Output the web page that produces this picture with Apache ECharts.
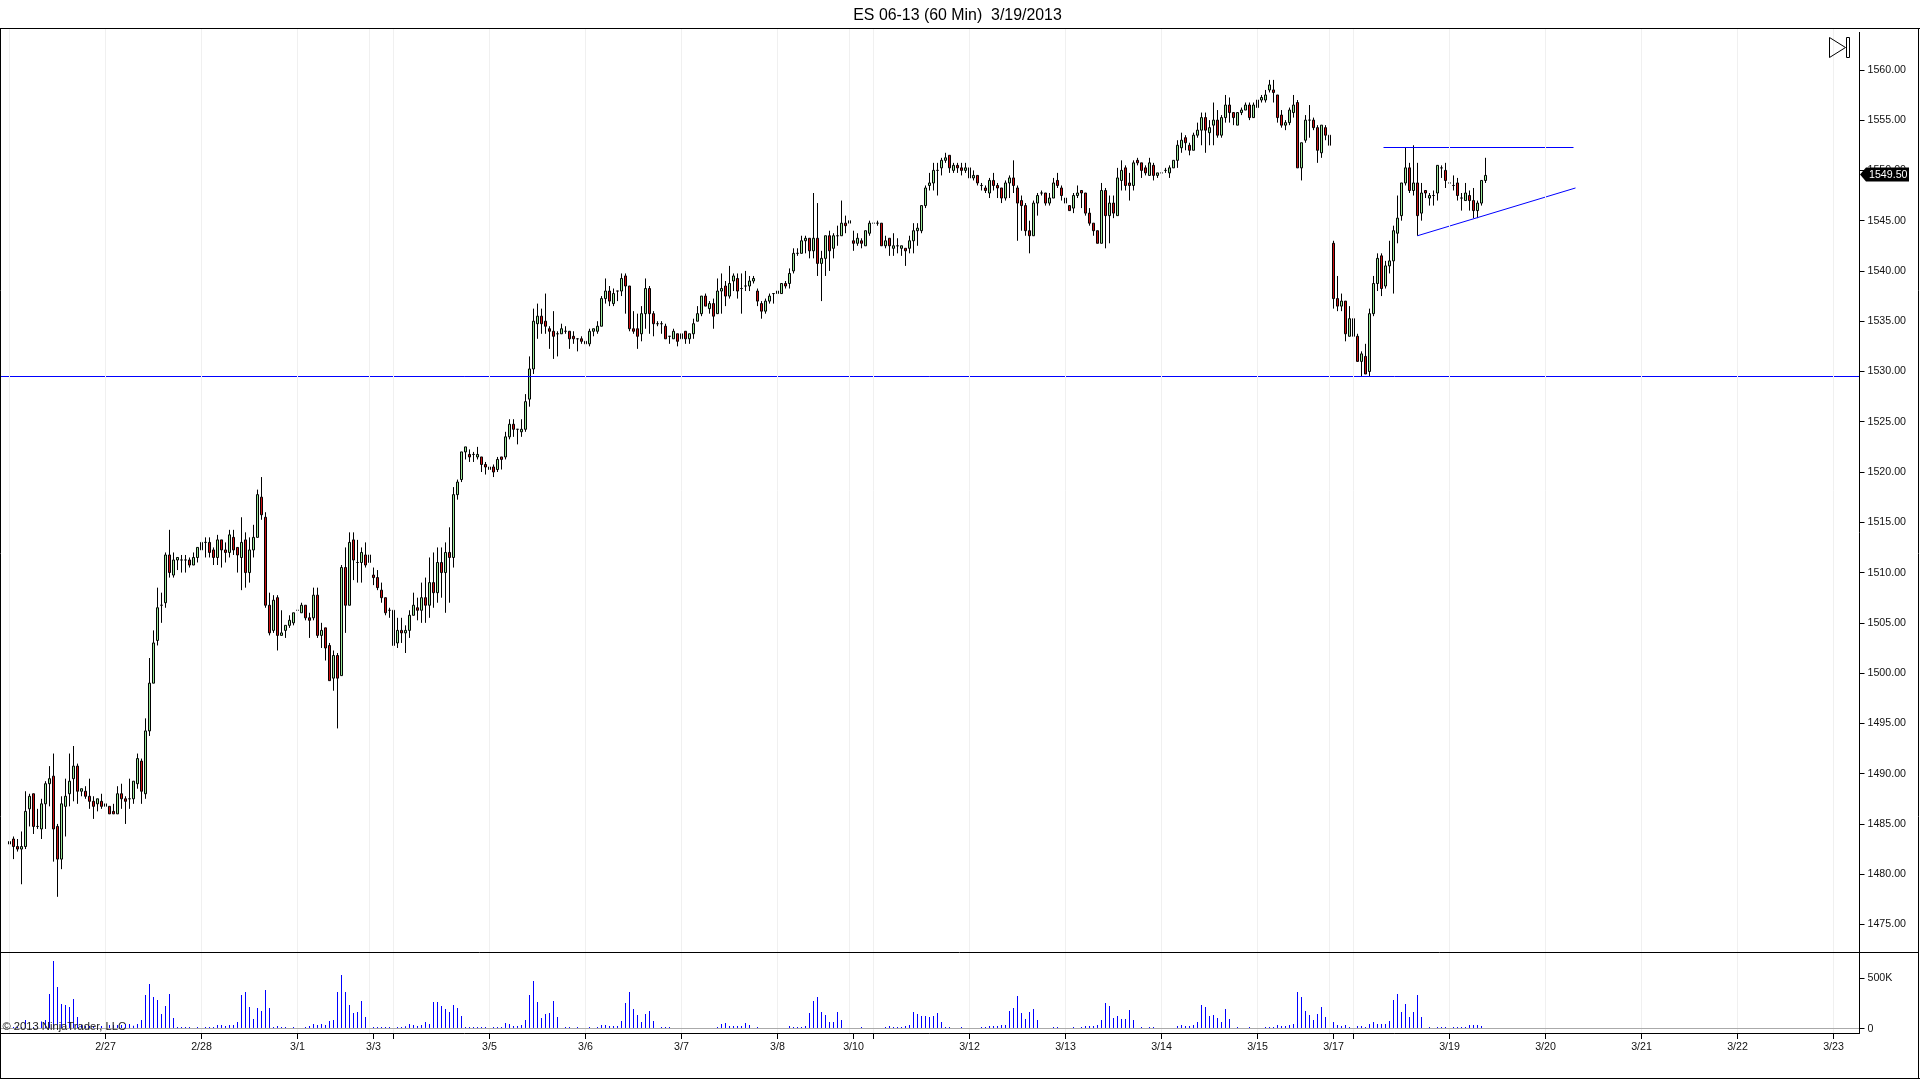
<!DOCTYPE html>
<html><head><meta charset="utf-8"><title>ES 06-13</title>
<style>html,body{margin:0;padding:0;background:#fff}#c{width:1920px;height:1079px}</style>
<script src="https://cdn.jsdelivr.net/npm/echarts@6/dist/echarts.min.js"></script>
</head><body><div id="c"></div>
<script>
const titleText = 'ES 06-13 (60 Min)  3/19/2013';
const copyrightText = '\u00a9 2013 NinjaTrader, LLC';
// rows: open, close, low, high (one row per 60-minute bar)
const priceBars = [
[1483,1483.25,1480.25,1483.5],[1483.5,1482.75,1481.5,1483.75],[1482.75,1482.5,1482.25,1483.5],[1482.5,1482.75,1479,1484.25],[1482.75,1486.25,1482.5,1488.25],
[1486.5,1487.75,1484.75,1488],[1488,1484.75,1484,1488],[1484.75,1484.75,1484.5,1486.5],[1484.5,1487,1483.5,1487.5],[1487,1489,1484.5,1489.25],
[1489,1489.5,1486.75,1490.75],[1489.75,1484.5,1481.25,1492],[1484.75,1481.5,1477.75,1485],[1481.5,1487,1480.5,1487.75],[1486.75,1487.75,1483.75,1489.5],
[1488,1489.25,1486.75,1492],[1489.5,1490.75,1487.25,1492.75],[1490.75,1488.25,1487,1491],[1488.25,1488.5,1487.75,1488.5],[1488.25,1487.75,1487.5,1488.75],
[1487.75,1487.25,1486.5,1489.5],[1487.25,1486.75,1485.5,1487.75],[1487,1487.5,1486.25,1487.5],[1487.25,1486.75,1486.5,1488],[1486.75,1487,1486.5,1487.25],
[1486.75,1486,1486,1486.75],[1486.25,1486,1486,1487],[1486,1488,1486,1488.75],[1488,1487.5,1486.5,1489],[1487.5,1487.25,1485,1487.75],
[1487.5,1487.5,1486.5,1489.5],[1487.5,1489.25,1487,1489.25],[1489,1491.5,1488.5,1492],[1491.25,1488.25,1487,1491.5],[1488,1494.25,1487.5,1495.5],
[1494.25,1499,1493.75,1501.5],[1499,1503,1499,1504.25],[1503.25,1506.5,1502.75,1508.5],[1506.75,1506.75,1505,1508],[1507,1511.75,1506.5,1512],
[1511.75,1510,1509.5,1514.25],[1509.75,1511.25,1509.5,1512],[1511.25,1511.5,1510.25,1511.5],[1511.25,1511.25,1510,1511.75],[1511.25,1511.25,1510,1511.75],
[1511.25,1510.75,1510.5,1511.5],[1510.75,1511.5,1510.75,1512],[1511.5,1512.5,1511,1512.5],[1512.25,1513,1512,1513.25],[1513,1513,1511.5,1513.5],
[1513,1512,1511.5,1513.5],[1512.25,1511.5,1510.75,1512.5],[1511.5,1513.25,1510.75,1513.75],[1513.25,1512.25,1510.5,1513.25],[1512.25,1512,1511,1513],
[1512,1513.75,1511.5,1514.25],[1513.5,1512.25,1511.75,1514.25],[1512.5,1511.75,1510,1512.5],[1511.5,1513,1508.25,1515.5],[1513.25,1510,1508.5,1514],
[1510,1512.25,1509,1513.5],[1512.25,1513.5,1511.5,1514.75],[1513.5,1517.75,1513.5,1518.25],[1517.5,1515.75,1515.25,1519.5],[1515.5,1506.75,1506.5,1516],
[1506.75,1504,1503.75,1508],[1504.25,1507.25,1504,1507.75],[1507.5,1503.75,1502.25,1507.75],[1503.75,1504,1503.75,1506.25],[1504.25,1504.75,1503.5,1504.75],
[1504.75,1505.25,1504.5,1505.75],[1505,1506,1504.75,1506],[1506.25,1506.25,1506,1507],[1506,1506.75,1506,1507],[1506.75,1505.5,1505.25,1506.75],
[1505.5,1505.25,1503.5,1506],[1505.5,1507.75,1505.25,1508.5],[1507.75,1503.75,1503.5,1508.5],[1503.75,1504.25,1502.5,1505],[1504.5,1502.5,1501.25,1504.5],
[1502.75,1499.25,1499.25,1503],[1499.5,1501.75,1498.25,1502.25],[1501.75,1499.5,1494.5,1502],[1499.75,1510.5,1499.75,1510.75],[1510.5,1506.75,1504,1512.5],
[1506.75,1513,1506.75,1514],[1513.25,1511.25,1509.25,1514],[1511,1511,1509,1513.25],[1511,1512,1509,1512.5],[1511.75,1510.75,1510.5,1513],
[1511,1511.75,1510.5,1512],[1509.75,1509.5,1508.75,1510.5],[1509.5,1508.5,1508.25,1510.25],[1508.25,1507.5,1507,1509],[1507.5,1506,1505.75,1507.5],
[1506.25,1506.25,1505.5,1506.5],[1506.25,1502.75,1502.75,1506.25],[1503,1504.25,1502.5,1505.5],[1504.25,1504,1503,1505.5],[1504,1504.25,1502,1504.75],
[1504.25,1505.75,1503.5,1506.25],[1505.75,1506.75,1505.75,1508],[1506.5,1506.25,1505.25,1507.5],
[1506.25,1507.5,1505,1509],[1507.5,1506.75,1505,1509.5],[1506.75,1509,1505.5,1511.5],[1509,1508,1506.5,1512],[1508,1511,1507,1512.5],[1511,1510,1507.5,1512.5],[1510,1512,1506,1513],[1512,1511.5,1507,1514.5],
[1511.5,1517.75,1510.5,1518.5],[1517.75,1519,1517.25,1519.25],[1519.25,1522,1519,1522],[1522,1522.5,1521.25,1522.5],
[1521.75,1521.5,1521,1522.25],[1521.75,1521.75,1521,1522],[1521.5,1521.75,1521.25,1522.5],[1521.5,1520.75,1520,1521.5],[1520.75,1520.5,1519.75,1521],
[1520.25,1520.5,1520.25,1520.75],[1520.5,1520,1519.5,1520.75],[1520.25,1521.25,1520,1521.5],[1521.5,1521.25,1520.25,1521.5],[1521.5,1523.5,1521.25,1524],
[1523.5,1524.75,1523.25,1525.25],[1524.75,1524.25,1523.5,1525.25],[1524.25,1524.25,1522.75,1524.25],[1524,1524.25,1523.5,1525.25],[1524.25,1527,1524,1527.75],
[1527.25,1530.25,1526.5,1531.5],[1530.25,1535,1529.75,1536.25],[1534.75,1535.5,1533.25,1536.75],[1535.5,1534.75,1533.75,1536.25],[1535,1534.5,1533.75,1537.75],
[1534.25,1534,1532.25,1534.5],[1534,1533.5,1531.25,1536],[1533.75,1533.75,1531.5,1534],[1533.75,1534.25,1533.75,1534.75],[1534,1534,1533.75,1534.5],
[1534,1533.25,1532.25,1534],[1533.5,1533.25,1532.75,1534],[1533.25,1533.25,1532,1533.25],[1533.25,1533,1532.75,1533.5],[1533,1532.75,1532.75,1533.25],
[1532.75,1534,1532.5,1534.25],[1534,1534.25,1533.5,1534.25],[1534,1534.5,1533.75,1535],[1534.5,1537.25,1534.5,1537.5],[1537.25,1538,1536.75,1539.25],
[1538,1537,1536.5,1538.5],[1536.75,1537.75,1536.5,1538.25],[1538,1538,1537,1538],[1538,1539.25,1537.5,1539.75],[1539.5,1538.5,1535.75,1539.75],
[1538.5,1534.25,1534,1538.5],[1534.25,1534,1533.75,1536],[1534.25,1533.5,1532.25,1535.75],[1533.75,1535.75,1533,1536.5],[1535.75,1538.25,1534.25,1539.25],
[1538.25,1535.75,1533.75,1538.5],[1535.75,1534.75,1533.5,1536],[1534.75,1534.75,1534.5,1535],[1534.75,1534.75,1533.75,1535],[1534.5,1533.25,1533.25,1534.75],
[1533.5,1533.5,1532.75,1533.5],[1533.25,1534,1533.25,1534.25],[1533.75,1533,1532.5,1533.75],[1533.25,1533.75,1533,1533.75],[1534,1533.25,1532.75,1534],
[1533.25,1533.75,1532.75,1533.75],[1533.75,1534.75,1533.25,1535.25],[1535,1535.75,1535,1536.5],[1535.75,1537.5,1535.5,1537.5],[1537.5,1536.5,1536.5,1537.75],
[1536.25,1536.75,1535.75,1537],[1536.75,1535.5,1534.25,1537.25],[1535.75,1538,1535.75,1539.25],[1538,1538.25,1535.75,1539.75],[1538.5,1537.5,1536.5,1539],
[1537.5,1538.75,1537.25,1540.5],[1539,1539.5,1538,1539.75],[1539.25,1538,1537.25,1539.75],[1538.25,1538.25,1535.75,1539.75],[1538.5,1538.5,1538,1540],
[1538.5,1539,1538,1539.5],[1539,1539.25,1538.75,1539.5],[1538,1537,1536.5,1538.25],[1536.75,1536,1535.25,1537],[1536,1537,1535.75,1537.25],
[1537,1537.5,1536.75,1537.75],[1537.75,1537.75,1536.75,1537.75],[1537.75,1538,1537.5,1538.5],[1537.75,1538.75,1537.75,1538.75],[1538.75,1538.5,1538.25,1539],
[1538.75,1539.75,1538.25,1540.25],[1540,1541.75,1539.75,1542.25],[1541.75,1541.75,1541.5,1542.25],
[1541.75,1543,1541.75,1543.5],[1543,1543.25,1541.75,1543.5],[1543.25,1542,1541.25,1543.25],[1542,1543.25,1541.25,1547.75],[1543.25,1540.75,1539.5,1546.75],
[1540.75,1541.25,1537,1542],[1541.25,1543.5,1539.5,1543.5],[1543.5,1542,1540,1544],[1542.25,1543.5,1541.25,1543.75],[1543.5,1543.5,1542.5,1544.5],
[1543.5,1544.75,1543.5,1547],[1544.75,1544.5,1543.75,1545.5],[1544.75,1545,1544.75,1545.75],[1543,1542.75,1542,1544],[1542.75,1543.25,1542.5,1543.75],
[1543,1542.75,1542.25,1543.25],[1542.5,1544,1542.5,1544],[1543.75,1544.75,1543.5,1545],[1544.75,1544.75,1544.25,1545.25],[1544.75,1544.75,1544.5,1545],
[1544.75,1542.5,1542.5,1544.75],[1542.5,1543,1542.25,1543.5],[1543.25,1542.5,1541.5,1543.25],[1542.25,1542.5,1541.5,1543.75],[1542.5,1542.5,1541.75,1543.25],
[1542.25,1542.5,1541.5,1542.5],[1542.25,1542,1540.5,1542.25],[1542.25,1543,1541.75,1543.5],[1543,1544,1541.75,1544.75],[1544,1544.25,1542.5,1544.75],
[1544,1546.5,1543.75,1546.5],[1546.5,1548.25,1546.25,1548.5],[1548.5,1548.75,1548,1549.75],[1548.75,1550,1548,1550.75],[1550,1550,1547.5,1550.75],
[1550.25,1551,1549.5,1551.25],[1551,1551.25,1550.75,1551.75],[1551.5,1550.25,1549.75,1551.5],[1550,1550.5,1549.75,1550.75],[1550.5,1550.25,1549.75,1550.75],
[1550.25,1550,1549.5,1550.75],[1550,1550.25,1549.75,1550.75],[1550.25,1549.25,1549,1550.25],[1549.25,1549.5,1549,1550],[1549.5,1548.75,1548.5,1549.5],
[1548.5,1548.5,1548,1548.75],[1548.25,1548,1547.75,1548.5],[1547.75,1549,1547.25,1549.25],[1549,1548.5,1548,1549.75],[1548.5,1548.25,1547.25,1548.75],
[1548.25,1547.25,1546.75,1548.25],[1547.25,1548.75,1547,1549],[1548.75,1549.25,1547.25,1549.5],[1549.25,1548.5,1547.75,1551],[1548.25,1546.75,1543,1548.5],
[1547,1546.5,1544,1547.5],[1546.5,1544,1543.5,1546.75],[1544,1543.5,1541.75,1545],[1543.5,1546.75,1543.5,1547],[1546.75,1547.5,1545.5,1547.75],
[1547.75,1547.75,1547.5,1548],[1547.75,1546.75,1546.5,1547.75],[1546.75,1547.25,1546.5,1547.75],[1547.25,1548.75,1547.25,1549.25],[1549,1548.5,1548.25,1549.75],
[1548.25,1547.5,1547,1548.5],[1547.25,1546.75,1545.75,1547.5],[1546.5,1546,1546,1546.5],[1546.25,1547.5,1545.75,1547.75],[1547.5,1547.75,1547.25,1548.5],
[1548,1547.75,1546.25,1548],[1547.75,1545.75,1545.5,1547.75],[1545.75,1544.75,1544.5,1546.25],[1544.75,1544,1543.5,1544.75],[1544,1542.75,1542.75,1544],
[1542.75,1548,1542.75,1548.75],[1548,1545.5,1542.25,1548.25],[1545.5,1546.75,1542.75,1547.5],[1546.75,1545.75,1545.25,1547.5],[1545.5,1549.25,1545.5,1550.25],
[1549,1550,1548,1551],[1550.25,1548.5,1548,1550.5],[1548.75,1548.5,1547,1549.75],[1548.5,1550.75,1548,1551],[1551,1550.75,1550.5,1551.25],
[1550.75,1550,1549.25,1550.75],[1550.25,1549.75,1549.5,1550.5],[1549.5,1550.75,1549.5,1551.25],[1550.5,1549.5,1549,1550.75],[1549.5,1549.75,1549.25,1549.75],
[1549.75,1549.75,1549.5,1550.25],[1550,1550,1549.75,1550.25],[1549.75,1550.25,1549.25,1550.5],[1550.25,1551,1550.25,1551],[1551,1552.5,1550.25,1553],
[1552.25,1553,1551.75,1553.75],[1553.25,1552.75,1552,1553.5],[1552.5,1552,1551.5,1552.75],[1552,1553.5,1552,1553.75],
[1553.5,1554,1553.25,1554.75],[1554,1555.25,1552.5,1555.75],[1555.25,1554,1551.75,1555.75],[1553.75,1554.25,1552.5,1555],[1554.5,1555,1552.5,1556.75],
[1555,1553.5,1553.25,1556],[1553.5,1555.25,1553.25,1555.5],[1555.25,1556.5,1554.75,1557.5],[1556.5,1555.75,1554.75,1557.25],[1555.75,1555.25,1554.5,1555.75],
[1554.5,1555.75,1554.5,1555.75],[1555.75,1556,1555.5,1556.25],[1556,1556.5,1556,1556.75],[1556.5,1555.25,1555,1556.75],[1555.25,1556.5,1555.25,1556.75],
[1556.25,1557,1556,1557.25],[1557,1557.25,1556.75,1557.5],[1557,1557.5,1556.75,1558],[1558,1558.5,1557.75,1559],[1558,1557.75,1556.75,1559],
[1557.5,1555.25,1554.75,1557.5],[1555.5,1554.5,1554.25,1556],[1554.5,1554.75,1554,1555],[1554.75,1556,1554.5,1556.25],[1555.75,1556.5,1555.25,1557.5],
[1556.75,1550.25,1550.25,1557],[1550.25,1552.75,1549,1552.75],[1553,1555,1552.75,1555.5],[1555,1555,1553.25,1556.5],[1555,1554.25,1554,1555.25],
[1554.25,1552,1550.75,1554.5],[1551.75,1554.5,1551.25,1554.5],[1554.25,1553.5,1553,1554.5],[1553.5,1552.5,1552.5,1553.5],
[1542.75,1537.25,1536.25,1543],[1537.25,1536.5,1536,1539.5],[1536.5,1537,1536,1537.75],[1537,1533.75,1533,1537],[1533.5,1535.25,1533.5,1536.5],
[1535.25,1533.5,1533,1536.25],[1533.5,1531,1531,1533.75],[1531,1531.75,1529.5,1532],[1531.5,1529.75,1529.75,1532.75],[1530,1535.75,1529.5,1536.25],
[1535.75,1538.75,1535.5,1539.5],[1538.75,1541.25,1538,1541.75],[1541.5,1538.25,1537.5,1541.75],[1538.5,1540.5,1538.25,1541],[1540.5,1541,1539.75,1543],
[1541,1544,1537.75,1544.5],[1543.75,1545.25,1542.75,1547.5],[1545.5,1548.75,1545,1548.75],[1548.75,1550.25,1548.5,1552.25],[1550.25,1548,1547.75,1550.75],
[1548,1548.75,1547.5,1552.5],[1548.75,1545.5,1543.5,1550.75],[1545.75,1547.75,1545,1548.75],[1548,1547.75,1547.25,1548],[1547.25,1547.5,1546.5,1547.75],
[1547.5,1547.5,1546.5,1548],[1547.75,1550.5,1547,1550.5],[1550.25,1550.25,1549.25,1550.5],[1550,1549,1548.25,1550.75],[1548.75,1548.75,1548.25,1549],
[1548.5,1548.5,1548,1549.5],[1548.75,1547.5,1547,1549.25],[1547.25,1547.25,1546,1547.75],[1547,1547.75,1547,1548.75],[1547.5,1547,1546,1548],
[1547,1546,1545.25,1548.25],[1546,1546.75,1545.25,1547],[1546.75,1549,1546.5,1549],[1549,1549.5,1548.75,1551.25]
];
// volume per bar, thousands of contracts
const volumeK = [
16,16,16,16,85,16,16,16,70,85, 342,668,411,243,233,214,293,115,36,26,
26,26,26,26,36,36,36,36,36,46, 46,30,46,86,332,441,312,283,145,224,
342,105,16,16,16,16,0,16,16,16, 16,16,36,36,26,36,36,66,332,362,
214,95,204,174,382,204,16,26,16,16, 0,16,0,0,16,26,46,36,46,36,
76,86,362,530,362,233,155,164,273,115, 0,16,16,16,16,16,16,16,16,23,
46,36,26,36,66,46,263,263,224,194, 164,233,204,125,16,16,16,16,16,16,
0,16,16,16,56,46,26,26,36,86, 332,470,263,105,145,155,273,115,0,16,
16,0,16,0,0,16,0,16,36,36, 26,26,26,76,253,362,194,135,66,145,
174,76,0,16,16,16,0,0,0,0, 0,0,0,0,0,0,0,16,46,56,
26,26,26,26,56,36,0,16,0,0, 0,0,0,0,0,26,16,16,16,26,
155,273,312,164,135,66,66,164,86,0, 16,0,0,16,0,0,0,0,0,16,
26,16,16,16,26,36,164,145,125,125, 115,125,155,66,16,16,0,0,16,0,
0,0,0,16,16,26,26,26,36,36, 174,204,322,155,95,164,194,86,0,0,
0,16,16,0,16,0,16,0,16,26, 26,26,36,86,253,224,105,125,95,95,
184,86,0,16,0,16,16,0,0,0, 0,0,26,36,26,26,36,66,233,214,
125,135,105,66,194,95,0,16,0,0, 16,0,16,0,16,16,16,36,26,26,
36,46,362,312,174,135,86,145,214,115, 0,66,36,26,36,16,16,26,26,16,
46,66,46,46,46,76,283,342,164,243, 115,164,332,115,0,16,0,16,16,16,
16,16,16,16,16,36,36,36,26,0
];
const priceTicks = [1475,1480,1485,1490,1495,1500,1505,1510,1515,1520,1525,1530,1535,1540,1545,1550,1555,1560];
const volumeTicks = [0,500000];
const gridBars = [0,24,48,72,90,96,120,144,168,192,210,216,240,264,288,312,330,336,360,384,408,432,456];
const tickBars = [24,48,72,91,96,120,144,168,192,211,216,240,264,288,312,331,336,360,384,408,432,456];
const tickLabels = ['2/27','2/28','3/1','3/3','','3/5','3/6','3/7','3/8','3/10','','3/12','3/13','3/14','3/15','3/17','','3/19','3/20','3/21','3/22','3/23'];
const supportLevel = 1529.5;
const resistanceLine = [[343.5,1552.276],[391,1552.276]];
const risingLine = [[352,1543.5],[391.5,1548.25]];
const lastPrice = 1549.5;

const FONT = '"Liberation Sans", Arial, sans-serif';
const X_MIN = -2.375, X_MAX = 462.5;
const candleData = priceBars.map((r, i) => [i, r[0], r[1], r[2], r[3]]);
const volumeData = volumeK.map((v, i) => [i, v * 1000]);
const gridMarks = gridBars.map(b => ({xAxis: b}));

const chart = echarts.init(document.getElementById('c'), null, {renderer: 'canvas'});
chart.setOption({
  animation: false,
  backgroundColor: '#fff',
  title: {text: titleText, left: 952.5, top: 2.5, textAlign: 'center',
    textStyle: {fontFamily: FONT, fontSize: 15.9, fontWeight: 'normal', color: '#000'}},
  grid: [
    {left: 0, width: 1859.5, top: 28.5, height: 924},
    {left: 0, width: 1859.5, top: 952.5, height: 80.5}
  ],
  xAxis: [
    {type: 'value', gridIndex: 0, min: X_MIN, max: X_MAX, show: false, splitLine: {show: false}},
    {type: 'value', gridIndex: 1, min: X_MIN, max: X_MAX, position: 'bottom', splitLine: {show: false},
      axisLine: {show: true, onZero: false, lineStyle: {color: '#000', width: 1}},
      axisTick: {show: true, customValues: tickBars, length: 6, lineStyle: {color: '#000'}},
      axisLabel: {customValues: tickBars, margin: 9, color: '#111', fontFamily: FONT, fontSize: 10.67,
        formatter: v => tickLabels[tickBars.indexOf(v)] || ''}}
  ],
  yAxis: [
    {type: 'value', gridIndex: 0, position: 'right', min: 1472.212, max: 1564.112, scale: true, splitLine: {show: false},
      axisLine: {show: false, onZero: false},
      axisTick: {show: true, customValues: priceTicks, length: 5, lineStyle: {color: '#000'}},
      axisLabel: {customValues: priceTicks, margin: 8, padding: [3, 0, 0, 0], color: '#111', fontFamily: FONT, fontSize: 10.67,
        formatter: v => v.toFixed(2)}},
    {type: 'value', gridIndex: 1, position: 'right', min: -42400, max: 751000, splitLine: {show: false},
      axisLine: {show: false, onZero: false},
      axisTick: {show: true, customValues: volumeTicks, length: 5, lineStyle: {color: '#000'}},
      axisLabel: {customValues: volumeTicks, margin: 8, padding: [3, 0, 0, 0], color: '#111', fontFamily: FONT, fontSize: 10.67,
        formatter: v => v === 0 ? '0' : (v / 1000) + 'K'}}
  ],
  series: [
    {type: 'line', xAxisIndex: 0, yAxisIndex: 0, data: [], silent: true, z: 0,
      markLine: {silent: true, symbol: 'none', animation: false, label: {show: false},
        lineStyle: {color: '#f0f0f0', width: 1, type: 'solid'}, data: gridMarks}},
    {type: 'line', xAxisIndex: 1, yAxisIndex: 1, data: [], silent: true, z: 0,
      markLine: {silent: true, symbol: 'none', animation: false, label: {show: false},
        lineStyle: {color: '#f0f0f0', width: 1, type: 'solid'}, data: gridMarks}},
    {type: 'line', xAxisIndex: 1, yAxisIndex: 1, data: [], silent: true, z: 1,
      markLine: {silent: true, symbol: 'none', animation: false, label: {show: false},
        lineStyle: {color: '#aaaaaa', width: 1, type: 'solid'}, data: [{yAxis: 0}]}},
    {name: 'Volume', type: 'bar', xAxisIndex: 1, yAxisIndex: 1, data: volumeData, barWidth: 1,
      itemStyle: {color: '#0000ff'}, silent: true, z: 2, large: false},
    {name: 'ES 06-13', type: 'candlestick', xAxisIndex: 0, yAxisIndex: 0, data: candleData,
      encode: {x: 0, y: [1, 2, 3, 4]}, barWidth: 2, silent: true, z: 3,
      itemStyle: {color: '#98E898', color0: '#CC1010', borderColor: '#000', borderColor0: '#000', borderColorDoji: '#000', borderWidth: 1}},
    {type: 'line', xAxisIndex: 0, yAxisIndex: 0, data: [[X_MIN, supportLevel], [X_MAX, supportLevel]],
      symbol: 'none', silent: true, z: 4, lineStyle: {color: '#0000ff', width: 1}},
    {type: 'line', xAxisIndex: 0, yAxisIndex: 0, data: resistanceLine, symbol: 'none', silent: true, z: 4,
      lineStyle: {color: '#0000ff', width: 1}},
    {type: 'line', xAxisIndex: 0, yAxisIndex: 0, data: risingLine, symbol: 'none', silent: true, z: 4,
      lineStyle: {color: '#0000ff', width: 1}}
  ]
});

const py = chart.convertToPixel({yAxisIndex: 0}, lastPrice) - 1;
function seg(x1, y1, x2, y2) {
  return {type: 'line', silent: true, z: 50, shape: {x1, y1, x2, y2}, style: {stroke: '#000', lineWidth: 1}};
}
chart.setOption({graphic: [
  seg(0, 28.5, 1920, 28.5), seg(0.5, 28, 0.5, 1079), seg(1918.5, 28, 1918.5, 1079), seg(0, 1078.5, 1920, 1078.5),
  seg(0, 952.5, 1919, 952.5), seg(1859.5, 32, 1859.5, 1033.5),
  {type: 'polyline', silent: true, z: 60, shape: {points: [[1829.5, 37.5], [1845.5, 47.5], [1829.5, 57.5], [1829.5, 37.5]]},
    style: {stroke: '#000', fill: 'none', lineWidth: 1}},
  {type: 'rect', silent: true, z: 60, shape: {x: 1846.5, y: 37.5, width: 3, height: 20}, style: {stroke: '#000', fill: 'none', lineWidth: 1}},
  {type: 'polygon', silent: true, z: 60, shape: {points: [[1860, py], [1866, py - 7], [1909, py - 7], [1909, py + 7], [1866, py + 7]]},
    style: {fill: '#000'}},
  {type: 'text', silent: true, z: 61, x: 1869, y: py + 0.5, style: {text: lastPrice.toFixed(2), fill: '#fff', font: '10.67px ' + FONT, verticalAlign: 'middle'}},
  {type: 'text', silent: true, z: 61, x: 2.5, y: 1027, style: {text: copyrightText, fill: '#222', font: '11.2px ' + FONT, verticalAlign: 'middle'}}
]});
</script></body></html>
